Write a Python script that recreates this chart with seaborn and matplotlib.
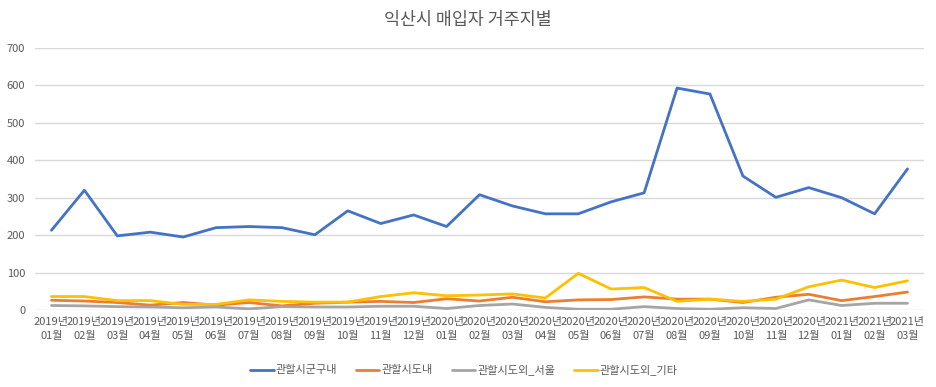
import matplotlib
matplotlib.use("Agg")
import matplotlib.pyplot as plt
import seaborn as sns
import pandas as pd

months = ["2019년\n01월", "2019년\n02월", "2019년\n03월", "2019년\n04월", "2019년\n05월", "2019년\n06월",
          "2019년\n07월", "2019년\n08월", "2019년\n09월", "2019년\n10월", "2019년\n11월", "2019년\n12월",
          "2020년\n01월", "2020년\n02월", "2020년\n03월", "2020년\n04월", "2020년\n05월", "2020년\n06월",
          "2020년\n07월", "2020년\n08월", "2020년\n09월", "2020년\n10월", "2020년\n11월", "2020년\n12월",
          "2021년\n01월", "2021년\n02월", "2021년\n03월"]

s_gungu = [213, 320, 198, 208, 195, 220, 223, 220, 201, 265, 231, 254, 223, 308,
           278, 257, 257, 289, 313, 593, 577, 358, 301, 327, 300, 257, 377]
s_do = [26, 24, 20, 13, 20, 13, 20, 11, 18, 21, 23, 20, 30, 24,
        34, 22, 27, 28, 35, 29, 29, 20, 34, 42, 25, 36, 48]
s_seoul = [12, 11, 9, 8, 6, 8, 3, 9, 8, 8, 10, 10, 4, 12,
           16, 7, 2, 2, 9, 4, 2, 6, 4, 27, 12, 18, 18]
s_etc = [36, 36, 25, 25, 15, 15, 27, 23, 21, 21, 36, 46, 38, 40,
         43, 32, 98, 56, 60, 23, 29, 23, 29, 62, 80, 60, 78]

series_names = ["관할시군구내", "관할시도내", "관할시도외_서울", "관할시도외_기타"]
series_vals = [s_gungu, s_do, s_seoul, s_etc]
colors = ["#4472C4", "#ED7D31", "#A5A5A5", "#FFC000"]

rows = []
for name, vals in zip(series_names, series_vals):
    for i, v in enumerate(vals):
        rows.append({"idx": i, "value": v, "series": name})
df = pd.DataFrame(rows)

sns.set_theme(style="white")
plt.rcParams["font.family"] = ["Noto Sans CJK KR", "DejaVu Sans"]

fig = plt.figure(figsize=(9.36, 3.87), dpi=100)
ax = fig.add_axes([35 / 936, 1 - 310 / 387, (924 - 35) / 936, (310 - 48) / 387])

sns.lineplot(data=df, x="idx", y="value", hue="series", hue_order=series_names,
             palette=colors, linewidth=2.0, ax=ax, legend=False)

ax.set_xlim(-0.5, len(months) - 0.5)
ax.set_ylim(0, 700)
ax.set_yticks(range(0, 701, 100))
ax.set_xticks(range(len(months)))
ax.set_xticklabels(months, linespacing=1.5)
ax.tick_params(axis="both", length=0, labelsize=8, labelcolor="#595959")
ax.tick_params(axis="x", pad=5)
ax.tick_params(axis="y", pad=7)
ax.yaxis.grid(True, color="#D9D9D9", linewidth=1.0)
ax.set_axisbelow(True)
for sp in ax.spines.values():
    sp.set_visible(False)
ax.set_xlabel("")
ax.set_ylabel("")

fig.text(0.5, 1 - 20 / 387, "익산시 매입자 거주지별", ha="center", va="center",
         fontsize=12.5, color="#595959")

handles = [plt.Line2D([], [], color=c, linewidth=2.0) for c in colors]
fig.legend(handles, series_names, loc="center", bbox_to_anchor=(464 / 936, 1 - 370 / 387),
           ncol=4, frameon=False, fontsize=8, labelcolor="#595959",
           handlelength=2.1, handletextpad=0.2, columnspacing=1.7)

fig.savefig("out.png", dpi=100)
